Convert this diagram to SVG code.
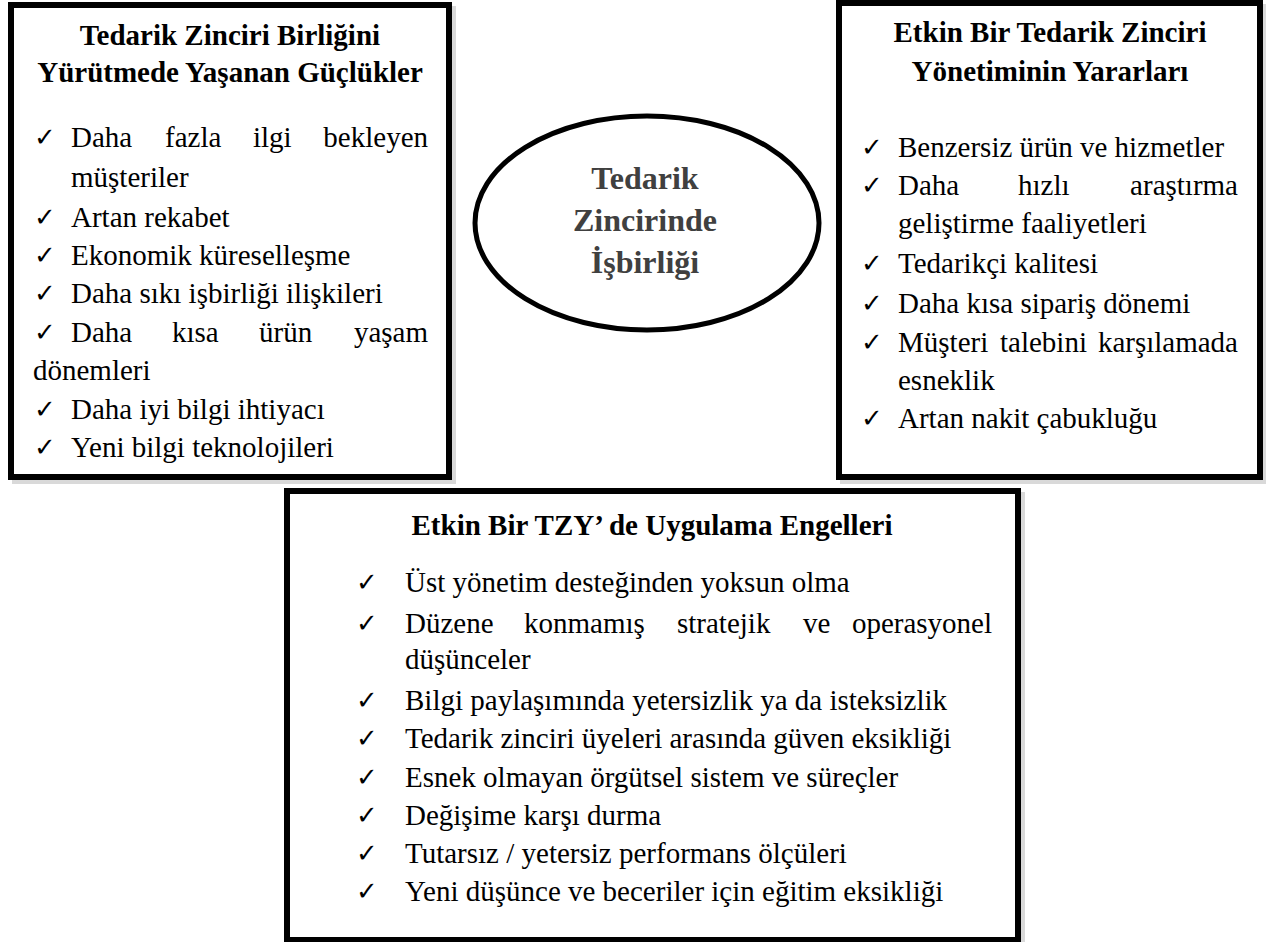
<svg xmlns="http://www.w3.org/2000/svg" width="1266" height="942" viewBox="0 0 1266 942">
<rect width="1266" height="942" fill="#fff"/>
<g id="connectors"></g>
<g id="shadows" fill="none" stroke="#000">
<rect x="15" y="9" width="438" height="472" stroke-width="6" stroke-opacity="0.15"/>
<rect x="843" y="7" width="421" height="474" stroke-width="6" stroke-opacity="0.15"/>
<rect x="291" y="495" width="731" height="449" stroke-width="6" stroke-opacity="0.15"/>
</g>
<g id="left-box" font-size="29" fill="#000">
<rect x="11" y="5" width="438" height="472" fill="#fff" stroke="#000" stroke-width="6"/>
<text font-family="Liberation Serif" font-weight="bold" text-anchor="middle" x="230" y="45">Tedarik Zinciri Birliğini</text>
<text font-family="Liberation Serif" font-weight="bold" text-anchor="middle" x="230" y="82">Yürütmede Yaşanan Güçlükler</text>
<text font-family="DejaVu Sans" font-size="26" x="34" y="146">✓</text>
<text font-family="DejaVu Sans" font-size="26" x="34" y="226">✓</text>
<text font-family="DejaVu Sans" font-size="26" x="34" y="264">✓</text>
<text font-family="DejaVu Sans" font-size="26" x="34" y="302">✓</text>
<text font-family="DejaVu Sans" font-size="26" x="34" y="341">✓</text>
<text font-family="DejaVu Sans" font-size="26" x="34" y="418">✓</text>
<text font-family="DejaVu Sans" font-size="26" x="34" y="456">✓</text>
<text font-family="Liberation Serif" x="71" y="147">Daha</text><text font-family="Liberation Serif" x="165" y="147">fazla</text><text font-family="Liberation Serif" x="253" y="147">ilgi</text><text font-family="Liberation Serif" x="428" y="147" text-anchor="end">bekleyen</text>
<text font-family="Liberation Serif" x="71" y="187">müşteriler</text>
<text font-family="Liberation Serif" x="71" y="227">Artan rekabet</text>
<text font-family="Liberation Serif" x="71" y="265">Ekonomik küreselleşme</text>
<text font-family="Liberation Serif" x="71" y="303">Daha sıkı işbirliği ilişkileri</text>
<text font-family="Liberation Serif" x="71" y="342">Daha</text><text font-family="Liberation Serif" x="172" y="342">kısa</text><text font-family="Liberation Serif" x="259" y="342">ürün</text><text font-family="Liberation Serif" x="428" y="342" text-anchor="end">yaşam</text>
<text font-family="Liberation Serif" x="33" y="380">dönemleri</text>
<text font-family="Liberation Serif" x="71" y="419">Daha iyi bilgi ihtiyacı</text>
<text font-family="Liberation Serif" x="71" y="457">Yeni bilgi teknolojileri</text>
</g>

<g id="center-ellipse" font-size="32" font-weight="bold" fill="#404040" text-anchor="middle">
<ellipse cx="647" cy="223" rx="172" ry="107" fill="#fff" stroke="#000" stroke-width="5"/>
<text font-family="Liberation Serif" x="645" y="189">Tedarik</text>
<text font-family="Liberation Serif" x="645" y="231">Zincirinde</text>
<text font-family="Liberation Serif" x="645" y="273">İşbirliği</text>
</g>

<g id="right-box" font-size="29" fill="#000">
<rect x="839" y="3" width="421" height="474" fill="#fff" stroke="#000" stroke-width="6"/>
<text font-family="Liberation Serif" font-weight="bold" text-anchor="middle" x="1050" y="42">Etkin Bir Tedarik Zinciri</text>
<text font-family="Liberation Serif" font-weight="bold" text-anchor="middle" x="1050" y="81">Yönetiminin Yararları</text>
<text font-family="DejaVu Sans" font-size="26" x="861" y="156">✓</text>
<text font-family="DejaVu Sans" font-size="26" x="861" y="194">✓</text>
<text font-family="DejaVu Sans" font-size="26" x="861" y="272">✓</text>
<text font-family="DejaVu Sans" font-size="26" x="861" y="312">✓</text>
<text font-family="DejaVu Sans" font-size="26" x="861" y="351">✓</text>
<text font-family="DejaVu Sans" font-size="26" x="861" y="427">✓</text>
<text font-family="Liberation Serif" x="898" y="157">Benzersiz ürün ve hizmetler</text>
<text font-family="Liberation Serif" x="898" y="195">Daha</text><text font-family="Liberation Serif" x="1018" y="195">hızlı</text><text font-family="Liberation Serif" x="1238" y="195" text-anchor="end">araştırma</text>
<text font-family="Liberation Serif" x="898" y="233">geliştirme faaliyetleri</text>
<text font-family="Liberation Serif" x="898" y="273">Tedarikçi kalitesi</text>
<text font-family="Liberation Serif" x="898" y="313">Daha kısa sipariş dönemi</text>
<text font-family="Liberation Serif" x="898" y="352">Müşteri</text><text font-family="Liberation Serif" x="1000" y="352">talebini</text><text font-family="Liberation Serif" x="1238" y="352" text-anchor="end">karşılamada</text>
<text font-family="Liberation Serif" x="898" y="390">esneklik</text>
<text font-family="Liberation Serif" x="898" y="428">Artan nakit çabukluğu</text>
</g>

<g id="bottom-box" font-size="29" fill="#000">
<rect x="287" y="491" width="731" height="449" fill="#fff" stroke="#000" stroke-width="6"/>
<text font-family="Liberation Serif" x="652" y="535" font-weight="bold" text-anchor="middle">Etkin Bir TZY’ de Uygulama Engelleri</text>
<text font-family="DejaVu Sans" font-size="26" x="356" y="591">✓</text>
<text font-family="DejaVu Sans" font-size="26" x="356" y="632">✓</text>
<text font-family="DejaVu Sans" font-size="26" x="356" y="709">✓</text>
<text font-family="DejaVu Sans" font-size="26" x="356" y="747">✓</text>
<text font-family="DejaVu Sans" font-size="26" x="356" y="786">✓</text>
<text font-family="DejaVu Sans" font-size="26" x="356" y="824">✓</text>
<text font-family="DejaVu Sans" font-size="26" x="356" y="862">✓</text>
<text font-family="DejaVu Sans" font-size="26" x="356" y="900">✓</text>
<text font-family="Liberation Serif" x="405" y="592">Üst yönetim desteğinden yoksun olma</text>
<text font-family="Liberation Serif" x="405" y="633">Düzene</text><text font-family="Liberation Serif" x="524" y="633">konmamış</text><text font-family="Liberation Serif" x="677" y="633">stratejik</text><text font-family="Liberation Serif" x="803" y="633">ve</text><text font-family="Liberation Serif" x="992" y="633" text-anchor="end">operasyonel</text>
<text font-family="Liberation Serif" x="405" y="669">düşünceler</text>
<text font-family="Liberation Serif" x="405" y="710">Bilgi paylaşımında yetersizlik ya da isteksizlik</text>
<text font-family="Liberation Serif" x="405" y="748">Tedarik zinciri üyeleri arasında güven eksikliği</text>
<text font-family="Liberation Serif" x="405" y="787">Esnek olmayan örgütsel sistem ve süreçler</text>
<text font-family="Liberation Serif" x="405" y="825">Değişime karşı durma</text>
<text font-family="Liberation Serif" x="405" y="863">Tutarsız / yetersiz performans ölçüleri</text>
<text font-family="Liberation Serif" x="405" y="901">Yeni düşünce ve beceriler için eğitim eksikliği</text>
</g>
</svg>
